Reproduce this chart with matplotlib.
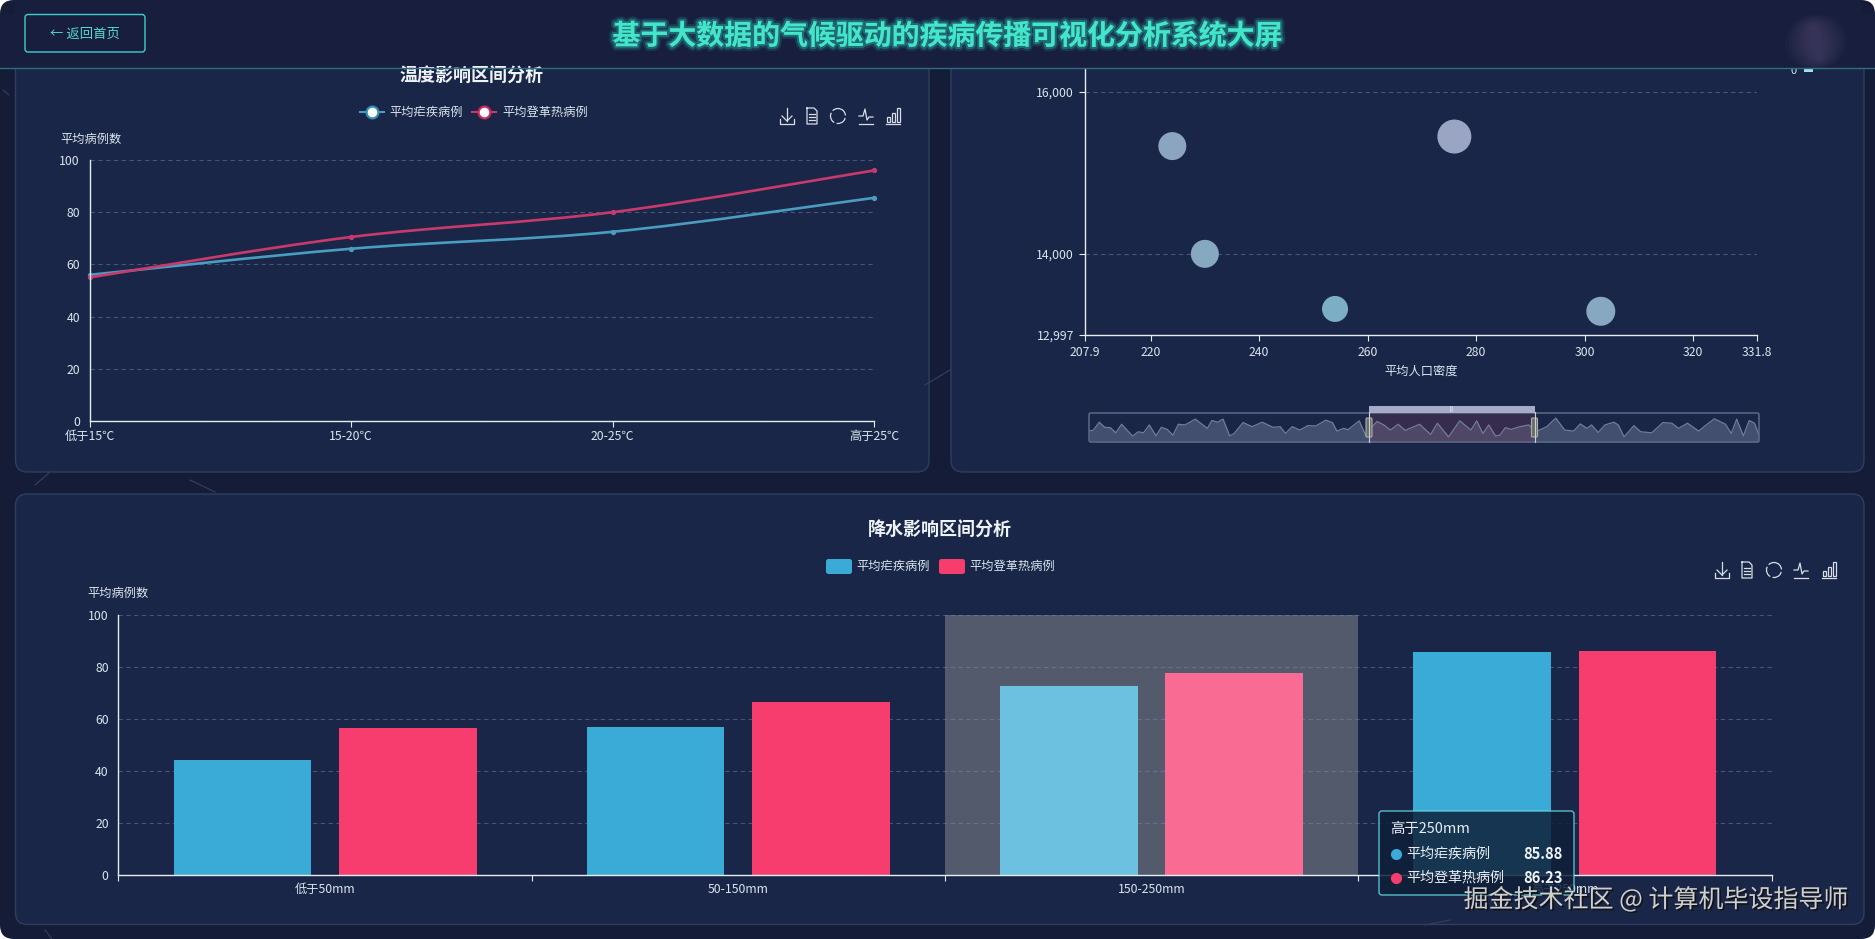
#!/usr/bin/env python3
import matplotlib
matplotlib.use("Agg")
import matplotlib.pyplot as plt
import matplotlib.patheffects as pe
from matplotlib.patches import FancyBboxPatch, PathPatch, Rectangle, Ellipse
from matplotlib.path import Path

plt.rcParams["font.family"] = ["Noto Sans CJK SC", "DejaVu Sans"]

W, H = 1875, 939

MALARIA_NAME = "平均疟疾病例"
DENGUE_NAME = "平均登革热病例"

TEMP_LABELS = ["低于15℃", "15-20℃", "20-25℃", "高于25℃"]
TEMP_MALARIA = [56, 66, 72.5, 85.5]
TEMP_DENGUE = [55, 70.5, 80, 96]

RAIN_LABELS = ["低于50mm", "50-150mm", "150-250mm", "高于250mm"]
RAIN_MALARIA = [44, 57, 72.7, 85.88]
RAIN_DENGUE = [56.5, 66.5, 77.8, 86.23]

DENSITY = [224, 276, 230, 254, 303]
CASES = [15332, 15450, 14000, 13319, 13290]
BUBBLE_RADIUS_PX = [14, 17, 14, 13, 14.5]
BUBBLE_COLORS = ["#8ba5c0", "#9aa5c4", "#87a9c0", "#7caec5", "#86a9c1"]
DENSITY_TICKS = [207.9, 220, 240, 260, 280, 300, 320, 331.8]
CASE_TICKS = [12997, 14000, 16000]

# outline of the slider's shadow
SLIDER_POS = [0, 10, 23, 35, 48, 60, 73, 85, 98, 110, 122, 135, 150, 162, 175, 188, 200, 215, 238,
              265, 275, 288, 300, 315, 325, 345, 365, 388, 412, 428, 440, 455, 472, 490, 508, 530,
              545, 555, 570, 580, 605, 620, 630, 645, 660, 675, 692, 708, 740, 765, 780, 805, 830,
              855, 868, 882, 895, 910, 920, 932, 945, 965, 985, 1000, 1025, 1045, 1065, 1085, 1100,
              1115, 1125, 1140, 1155, 1175, 1185, 1198, 1220, 1235, 1260, 1285, 1305, 1320, 1340,
              1365, 1380, 1400, 1425, 1438, 1450, 1465, 1478, 1490, 1500]
SLIDER_VAL = [32, 35, 58, 43, 42, 27, 52, 35, 17, 30, 27, 50, 18, 43, 37, 20, 52, 50, 67,
              40, 63, 58, 67, 18, 25, 57, 45, 58, 43, 45, 25, 45, 35, 48, 47, 64,
              57, 32, 40, 36, 62, 18, 40, 60, 50, 35, 52, 34, 52, 22, 55, 15, 62,
              35, 62, 25, 50, 18, 20, 42, 37, 45, 50, 30, 45, 70, 35, 32, 53,
              40, 50, 28, 50, 58, 50, 15, 48, 30, 27, 57, 55, 40, 55,
              32, 48, 68, 52, 25, 67, 18, 63, 55, 20]
SLIDER_START, SLIDER_END = 627, 998

TOOLTIP_VALUES = ["85.88", "86.23"]

BG = "#141c38"
PANEL = "#1a2647"
PANEL_EDGE = "#2d3f60"
GRID = "#47537a"
AXIS = "#e6edf3"
TEXT = "#dbe5ee"
BLUE = "#3aabd6"
RED = "#f73c6e"
LINE_BLUE = "#4a9cc0"
LINE_RED = "#c93a6c"
TEAL = "#44e6c9"


def px_axes(fig, left, top, right, bottom, zorder):
    ax = fig.add_axes([left / W, 1 - bottom / H, (right - left) / W, (bottom - top) / H], zorder=zorder)
    ax.patch.set_alpha(0)
    for side in ("top", "right"):
        ax.spines[side].set_visible(False)
    for side in ("left", "bottom"):
        ax.spines[side].set_color(AXIS)
        ax.spines[side].set_linewidth(1.0)
    ax.tick_params(colors=TEXT, labelsize=8.8, width=0.8, color=AXIS)
    return ax


def overlay(fig, zorder):
    ax = fig.add_axes([0, 0, 1, 1], zorder=zorder)
    ax.set_xlim(0, W)
    ax.set_ylim(H, 0)
    ax.axis("off")
    ax.patch.set_alpha(0)
    return ax


def round_box(ax, x0, y0, x1, y1, radius, **kwargs):
    box = FancyBboxPatch((x0, y0), x1 - x0, y1 - y0, boxstyle=f"round,pad=0,rounding_size={radius}", **kwargs)
    ax.add_patch(box)
    return box


def smooth_curve(xs, ys):
    # Catmull-Rom through the data points, the way the smooth series looks
    verts = [(xs[0], ys[0])]
    codes = [Path.MOVETO]
    n = len(xs)
    for i in range(n - 1):
        p0 = max(i - 1, 0)
        p3 = min(i + 2, n - 1)
        verts.append((xs[i] + (xs[i + 1] - xs[p0]) / 6, ys[i] + (ys[i + 1] - ys[p0]) / 6))
        verts.append((xs[i + 1] - (xs[p3] - xs[i]) / 6, ys[i + 1] - (ys[p3] - ys[i]) / 6))
        verts.append((xs[i + 1], ys[i + 1]))
        codes += [Path.CURVE4] * 3
    return Path(verts, codes)


def toolbox(ax, xs, y):
    c = "#d7dee8"
    lw = 0.9
    x = xs[0]
    ax.plot([x - 7, x - 7, x + 7, x + 7], [y + 3, y + 8, y + 8, y + 3], color=c, lw=lw)
    ax.plot([x, x], [y - 8, y + 5], color=c, lw=lw)
    ax.plot([x - 5, x, x + 5], [y, y + 5, y], color=c, lw=lw)
    x = xs[1]
    ax.plot([x - 5, x + 2, x + 5, x + 5, x - 5, x - 5], [y - 8, y - 8, y - 5, y + 8, y + 8, y - 8], color=c, lw=lw)
    for dy in (-2, 1, 4):
        ax.plot([x - 3, x + 3], [y + dy, y + dy], color=c, lw=lw)
    x = xs[2]
    ax.add_patch(Ellipse((x, y), 15, 15, fill=False, edgecolor=c, lw=lw, linestyle=(0, (9, 2))))
    x = xs[3]
    ax.plot([x - 7, x - 3, x - 1, x + 1, x + 3, x + 7], [y, y, y - 7, y + 4, y + 1, y + 1], color=c, lw=lw)
    ax.plot([x - 7, x + 7], [y + 8, y + 8], color=c, lw=lw)
    x = xs[4]
    for dx, top in ((-5, 1), (0, -3), (5, -8)):
        ax.add_patch(Rectangle((x + dx - 1.5, y + top), 3, 6 - top, fill=False, edgecolor=c, lw=lw))
    ax.plot([x - 7, x + 7], [y + 8, y + 8], color=c, lw=lw)


fig = plt.figure(figsize=(W / 100, H / 100), dpi=100, facecolor="white")

back = overlay(fig, 0)
round_box(back, 0, 0, W, H, 14, facecolor=BG, edgecolor="none")
for seg in [((35, 485), (50, 472)), ((190, 480), (215, 492)), ((925, 385), (950, 370)),
            ((45, 930), (52, 939)), ((1425, 925), (1450, 920)), ((3, 90), (9, 95))]:
    back.plot([seg[0][0], seg[1][0]], [seg[0][1], seg[1][1]], color="#33415f", lw=0.8)
round_box(back, 15.5, 50, 929, 472, 12, facecolor=PANEL, edgecolor=PANEL_EDGE, lw=1)
round_box(back, 951, 50, 1864, 472, 12, facecolor=PANEL, edgecolor=PANEL_EDGE, lw=1)
round_box(back, 15.5, 494, 1864, 924.5, 12, facecolor=PANEL, edgecolor=PANEL_EDGE, lw=1)

# temperature line chart
ax1 = px_axes(fig, 89.7, 160, 874, 421, 1)
ax1.set_xlim(0, 3)
ax1.set_ylim(0, 100)
ax1.set_yticks([0, 20, 40, 60, 80, 100])
ax1.set_xticks(range(4))
ax1.set_xticklabels(TEMP_LABELS)
ax1.tick_params(axis="y", length=0, pad=7)
ax1.tick_params(axis="x", length=4, pad=2.5)
ax1.grid(axis="y", color=GRID, lw=0.8, linestyle=(0, (4, 3)))
ax1.set_axisbelow(True)
for vals, color in ((TEMP_MALARIA, LINE_BLUE), (TEMP_DENGUE, LINE_RED)):
    ax1.add_patch(PathPatch(smooth_curve(list(range(4)), vals), fill=False, edgecolor=color, lw=1.9, clip_on=False))
    ax1.plot(range(4), vals, "o", color=color, ms=2.8, clip_on=False)

# density scatter, its top runs under the header
ax2 = px_axes(fig, 1085, 60, 1757, 335, 1)
ax2.set_xlim(DENSITY_TICKS[0], DENSITY_TICKS[-1])
ax2.set_ylim(CASE_TICKS[0], 16396)
ax2.set_xticks(DENSITY_TICKS)
ax2.set_xticklabels([f"{v:g}" for v in DENSITY_TICKS])
ax2.set_yticks(CASE_TICKS)
ax2.set_yticklabels([f"{v:,}" for v in CASE_TICKS])
ax2.tick_params(length=4, pad=4)
ax2.grid(axis="y", color=GRID, lw=0.8, linestyle=(0, (4, 3)))
ax2.set_axisbelow(True)
sizes = [(2 * r * 0.72) ** 2 for r in BUBBLE_RADIUS_PX]
ax2.scatter(DENSITY, CASES, s=sizes, c=BUBBLE_COLORS, linewidths=0, zorder=3)

# slider strip
ax_s = px_axes(fig, 1089, 413, 1759, 442, 1)
ax_s.set_xlim(0, 1500)
ax_s.set_ylim(0, 85)
ax_s.set_xticks([])
ax_s.set_yticks([])
for spine in ax_s.spines.values():
    spine.set_visible(False)
ax_s.fill_between(SLIDER_POS, SLIDER_VAL, color="#434f6e", lw=0)
ax_s.plot(SLIDER_POS, SLIDER_VAL, color="#727d9b", lw=0.9)
ax_s.axvspan(SLIDER_START, SLIDER_END, color="#6a3a5c", alpha=0.35, lw=0)

# rainfall bars
ax3 = px_axes(fig, 118.4, 615, 1771.5, 874.5, 1)
ax3.set_xlim(0, 4)
ax3.set_ylim(0, 100)
ax3.set_yticks([0, 20, 40, 60, 80, 100])
ax3.set_xticks(range(5))
ax3.set_xticklabels([])
ax3.set_xticks([i + 0.5 for i in range(4)], labels=RAIN_LABELS, minor=True)
ax3.tick_params(axis="x", which="minor", length=0, pad=6, labelsize=8.8, colors=TEXT)
ax3.tick_params(axis="x", which="major", length=4)
ax3.tick_params(axis="y", length=0, pad=7)
ax3.grid(axis="y", color=GRID, lw=0.8, linestyle=(0, (4, 3)))
ax3.set_axisbelow(True)
hover = 2
ax3.axvspan(hover, hover + 1, color="#8a8e91", alpha=0.5, lw=0, zorder=1.5)
for i in range(4):
    c1 = "#6cc0e0" if i == hover else BLUE
    c2 = "#f96b92" if i == hover else RED
    ax3.bar(i + 0.3, RAIN_MALARIA[i], width=0.333, color=c1, zorder=2)
    ax3.bar(i + 0.7, RAIN_DENGUE[i], width=0.333, color=c2, zorder=2)

front = overlay(fig, 3)

# titles, legends, toolbox
front.text(472, 76, "温度影响区间分析", color="#eef3f7", fontsize=13, fontweight="bold", ha="center", va="center")
front.text(940, 530, "降水影响区间分析", color="#eef3f7", fontsize=13, fontweight="bold", ha="center", va="center")
for cx, color, ring, tx, name in ((372, LINE_BLUE, "#2f8fb0", 389, MALARIA_NAME), (484, LINE_RED, "#c9285f", 502, DENGUE_NAME)):
    front.plot([cx - 12, cx + 12], [112, 112], color=color, lw=1.5)
    front.plot([cx], [112], "o", ms=8.5, mfc="white", mec=ring, mew=1.6)
    front.text(tx, 112, name, color=TEXT, fontsize=8.8, va="center")
for x0, color, tx, name in ((826, BLUE, 856, MALARIA_NAME), (939, RED, 969, DENGUE_NAME)):
    round_box(front, x0, 559, x0 + 26, 574, 2.5, facecolor=color, edgecolor="none")
    front.text(tx, 566, name, color=TEXT, fontsize=8.8, va="center")
front.text(60, 139, "平均病例数", color=TEXT, fontsize=8.8, va="center")
front.text(87, 593, "平均病例数", color=TEXT, fontsize=8.8, va="center")
front.text(1421, 371, "平均人口密度", color=TEXT, fontsize=8.8, ha="center", va="center")
toolbox(front, [787, 812, 838, 866, 893], 116)
toolbox(front, [1722, 1747, 1774, 1801, 1829], 570)

# slider furniture
round_box(front, 1089, 413, 1759, 442, 2, facecolor="none", edgecolor="#5c6b87", lw=1.1)
front.add_patch(Rectangle((1369, 406), 166, 6.5, facecolor="#a5acc8", edgecolor="none"))
front.text(1452, 409.2, "|||", color="white", fontsize=3.5, ha="center", va="center")
for x in (1369, 1534.5):
    front.plot([x, x], [412, 442], color="#c9d0dc", lw=0.8)
    round_box(front, x - 3, 418, x + 3, 437, 1, facecolor="#6a7060", edgecolor="#a9adb5", lw=0.8)

# tooltip
round_box(front, 1379, 811, 1574, 895, 3, facecolor="#101f38", edgecolor="#62dbe4", lw=1, alpha=0.84)
front.text(1390, 829, RAIN_LABELS[3], color="#e8eef4", fontsize=10.4, va="center")
for y, color, name, val in ((854, BLUE, MALARIA_NAME, TOOLTIP_VALUES[0]), (878, RED, DENGUE_NAME, TOOLTIP_VALUES[1])):
    front.plot([1395.5], [y], "o", color=color, ms=7)
    front.text(1406, y, name, color="#e8eef4", fontsize=10.1, va="center")
    front.text(1563, y, val, color="#eef3f7", fontsize=10.6, fontweight="bold", ha="right", va="center")

# watermark
wm = front.text(1656, 900, "掘金技术社区 @ 计算机毕设指导师", color="#cfcfcf", fontsize=18, ha="center", va="center")
wm.set_path_effects([pe.withSimplePatchShadow(offset=(1.2, -1.2), shadow_rgbFace="#111111", alpha=0.9)])

# header sits on top and cuts off the panels
front.text(1794, 71, "0", color=TEXT, fontsize=8, ha="center", va="center", zorder=1)
front.add_patch(Rectangle((1804, 67), 9, 5, facecolor="#a4dff0", edgecolor="none", zorder=1))
front.add_patch(Rectangle((14, 0), W - 28, 68, facecolor="#181e3d", edgecolor="none", zorder=2))
front.add_patch(Rectangle((0, 14), W, 54, facecolor="#181e3d", edgecolor="none", zorder=2))
for k in range(8):
    front.add_patch(Ellipse((1816, 42), 62 - 7 * k, 56 - 3 * k, angle=-12, facecolor="#6d5f88", edgecolor="none", alpha=0.06, zorder=2.1))
front.plot([0, W], [68, 68], color="#2f6d80", lw=1, zorder=3)
round_box(front, 25, 14.5, 145, 52, 3, facecolor="none", edgecolor="#3fcfca", lw=1, zorder=3)
front.text(85, 34, "← 返回首页", color="#56d8cc", fontsize=9.6, ha="center", va="center", zorder=3)
title = front.text(947, 36.5, "基于大数据的气候驱动的疾病传播可视化分析系统大屏", color=TEAL, fontsize=20.1,
                   fontweight="bold", ha="center", va="center", zorder=4)
title.set_path_effects([pe.Stroke(linewidth=6, foreground="#1f6f7a", alpha=0.35), pe.Stroke(linewidth=3, foreground="#2aa6a0", alpha=0.45), pe.Normal()])

fig.savefig("out.png", dpi=100, facecolor="white")
